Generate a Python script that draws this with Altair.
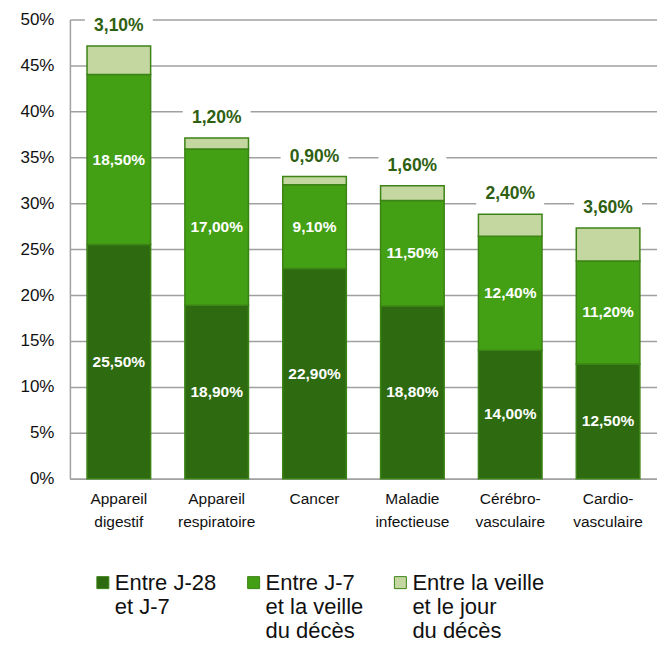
import altair as alt
import pandas as pd

categories = ["Appareil\ndigestif", "Appareil\nrespiratoire", "Cancer",
              "Maladie\ninfectieuse", "Cérébro-\nvasculaire", "Cardio-\nvasculaire"]
series = ["Entre J-28\net J-7\n ", "Entre J-7\net la veille\ndu décès", "Entre la veille\net le jour\ndu décès"]
j28_j7 = [25.5, 18.9, 22.9, 18.8, 14.0, 12.5]
j7_veille = [18.5, 17.0, 9.1, 11.5, 12.4, 11.2]
veille_jour = [3.1, 1.2, 0.9, 1.6, 2.4, 3.6]
colors = ["#2e6b10", "#43a015", "#c4d7a0"]

def fr(v):
    return f"{v:.2f}".replace(".", ",") + "%"

rows = []
for i, c in enumerate(categories):
    for k, (s, vals) in enumerate(zip(series, [j28_j7, j7_veille, veille_jour])):
        rows.append({"cat": c, "series": s, "order": k, "value": vals[i], "label": fr(vals[i])})
df = pd.DataFrame(rows)

tot = pd.DataFrame({"cat": categories,
                    "total": [a + b + c for a, b, c in zip(j28_j7, j7_veille, veille_jour)],
                    "label": [fr(v) for v in veille_jour]})

FONT = "Arial"

xenc = alt.X("cat:N", sort=categories, title=None,
             scale=alt.Scale(paddingInner=0.35, paddingOuter=0.175),
             axis=alt.Axis(labelExpr="split(datum.label, '\\n')", labelAngle=0,
                           labelFontSize=15.5, labelFont=FONT, labelColor="#111",
                           labelLineHeight=23, labelPadding=13, ticks=False,
                           domainColor="#a0a0a0", domainWidth=1.5, labelBaseline="top"))

base = alt.Chart(df)

sym_path = "M-1,0.67 L1,0.67 L1,2.67 L-1,2.67 Z"

bars = base.mark_bar(stroke="#3c8416", strokeWidth=1.5).encode(
    x=xenc,
    y=alt.Y("value:Q", stack="zero", title=None,
            scale=alt.Scale(domain=[0, 50]),
            axis=alt.Axis(values=list(range(0, 51, 5)), labelExpr="datum.value + '%'",
                          labelFontSize=17, labelFont=FONT, labelColor="#111",
                          labelPadding=16, ticks=False, gridColor="#a0a0a0", gridWidth=1.5,
                          domainColor="#a0a0a0", domainWidth=1.5)),
    color=alt.Color("series:N", sort=series,
                    scale=alt.Scale(domain=series, range=colors),
                    legend=alt.Legend(title=None, orient="none", legendX=22, legendY=543,
                                      direction="horizontal", columns=3,
                                      symbolType=sym_path, symbolSize=144,
                                      symbolStrokeColor="#3c8416", symbolStrokeWidth=1,
                                      labelExpr="split(datum.label, '\\n')",
                                      labelFontSize=22, labelFont=FONT, labelColor="#111",
                                      labelLimit=400, labelBaseline="top", labelOffset=1,
                                      columnPadding=26)),
    order=alt.Order("order:Q"),
)

inner = base.transform_filter("datum.order < 2").transform_stack(
    stack="value", groupby=["cat"], as_=["y0", "y1"], sort=[alt.SortField("order")]
).transform_calculate(mid="(datum.y0 + datum.y1) / 2").mark_text(
    color="white", fontWeight="bold", fontSize=15.5, font=FONT, baseline="middle"
).encode(x=alt.X("cat:N", sort=categories), y=alt.Y("mid:Q"), text="label:N")

path = "M-1,-0.36 L1,-0.36 L1,0.36 L-1,0.36 Z"
boxes = alt.Chart(tot).mark_point(shape=path, filled=True, fill="white", opacity=1,
                                  strokeWidth=0, size=68 * 68, yOffset=-20).encode(
    x=alt.X("cat:N", sort=categories), y=alt.Y("total:Q"))

toplab = alt.Chart(tot).mark_text(color="#2f5f12", fontWeight="bold", fontSize=17.5,
                                  font=FONT, dy=-20, baseline="middle").encode(
    x=alt.X("cat:N", sort=categories), y=alt.Y("total:Q"), text="label:N")

chart = alt.layer(bars, inner, boxes, toplab).properties(
    width=588, height=460,
    autosize=alt.AutoSizeParams(type="none"),
    padding={"left": 62, "top": 11, "right": 0, "bottom": 170},
).configure_view(stroke=None)

chart.save("out.html", embed_options={"renderer": "svg", "actions": False})
